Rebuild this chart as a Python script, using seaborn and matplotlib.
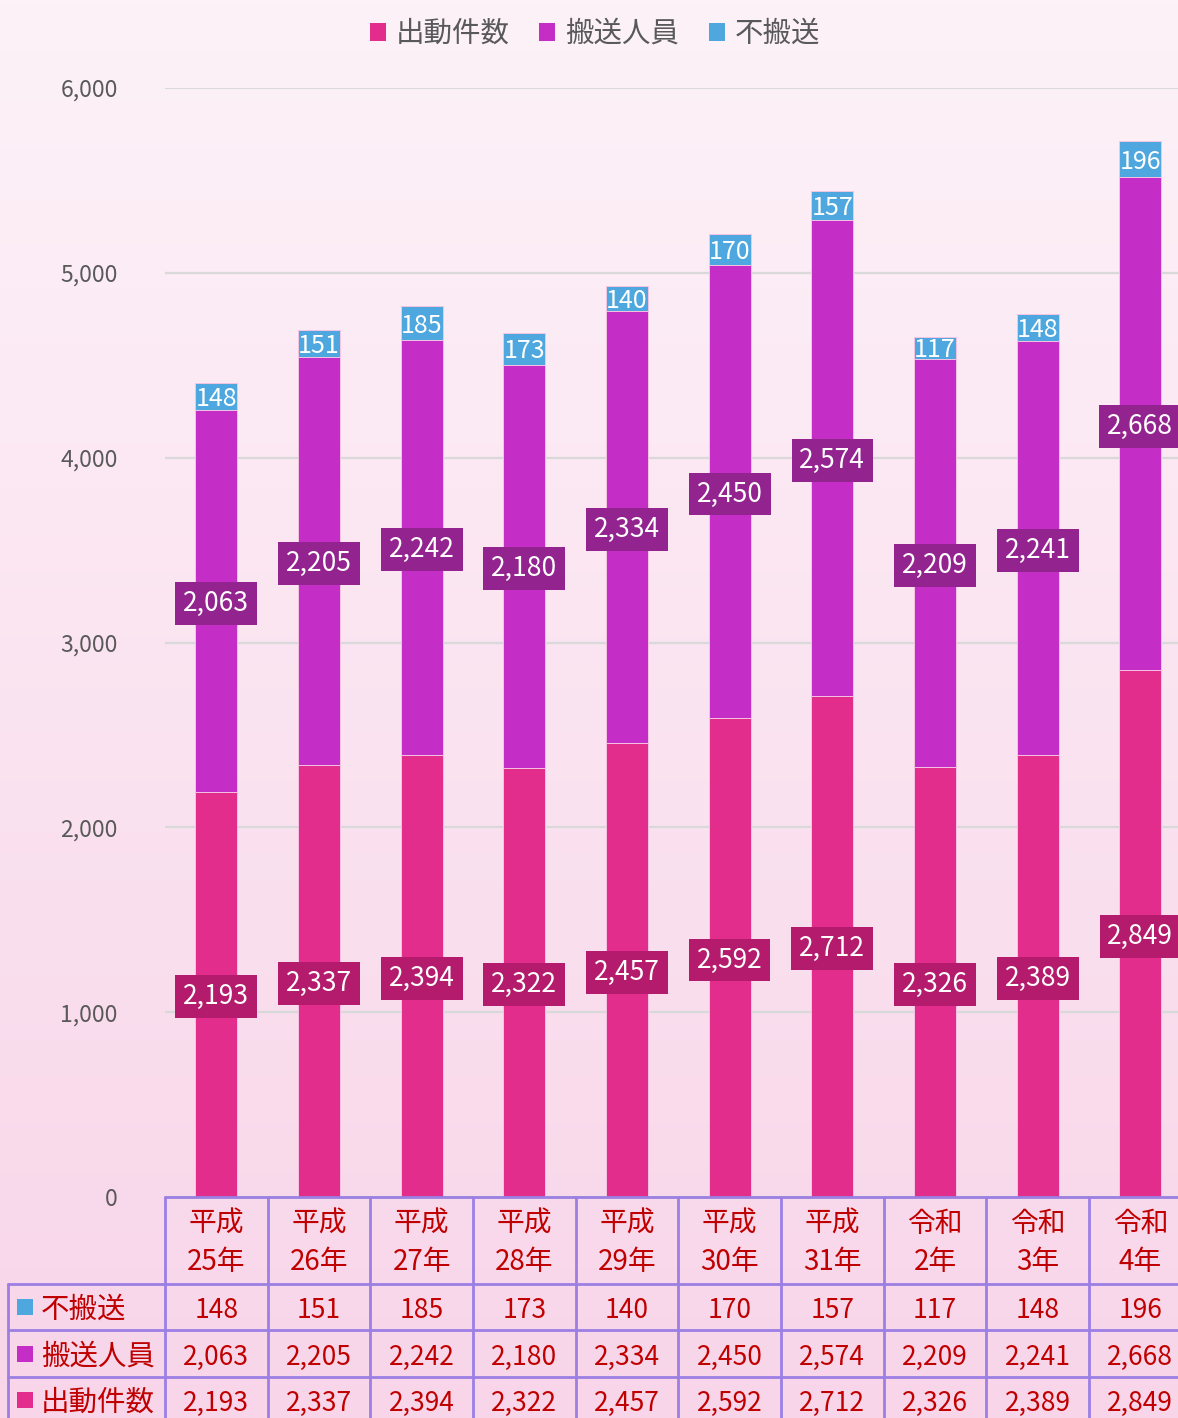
import numpy as np
import pandas as pd
import matplotlib
matplotlib.use("Agg")
import matplotlib.pyplot as plt
import matplotlib.transforms as mtransforms
from matplotlib.patches import Patch, Rectangle
from matplotlib.lines import Line2D
from matplotlib.ticker import FuncFormatter
import seaborn as sns

# ---- data -------------------------------------------------------------
era = ["平成", "平成", "平成", "平成", "平成", "平成", "平成", "令和", "令和", "令和"]
year = ["25年", "26年", "27年", "28年", "29年", "30年", "31年", "2年", "3年", "4年"]
dispatches = [2193, 2337, 2394, 2322, 2457, 2592, 2712, 2326, 2389, 2849]        # 出動件数
transported = [2063, 2205, 2242, 2180, 2334, 2450, 2574, 2209, 2241, 2668]       # 搬送人員
not_transported = [148, 151, 185, 173, 140, 170, 157, 117, 148, 196]            # 不搬送
series_names = ["出動件数", "搬送人員", "不搬送"]
y_ticks = [0, 1000, 2000, 3000, 4000, 5000, 6000]

# ---- styling ----------------------------------------------------------
C_DISPATCH = "#E32D8C"
C_TRANSPORT = "#C42EC6"
C_NOT = "#4EA7DE"
BOX_DISPATCH = "#B41B6C"
BOX_TRANSPORT = "#93238F"
TABLE_LINE = "#9B7FE3"
TABLE_TEXT = "#C00000"
GREY = "#595959"

sns.set_theme(style="white")
plt.rcParams["font.family"] = ["Noto Sans CJK JP", "DejaVu Sans"]

W, H = 1178, 1418
fig = plt.figure(figsize=(W / 100, H / 100), dpi=100)

# soft pink vertical gradient behind everything
bg = fig.add_axes([0, 0, 1, 1], zorder=-10)
top = np.array([253, 242, 248]) / 255
bot = np.array([248, 213, 233]) / 255
t = np.linspace(0, 1, 256)[:, None]
grad = (top[None, :] * (1 - t) + bot[None, :] * t)[:, None, :]
bg.imshow(grad, aspect="auto", extent=[0, 1, 0, 1], origin="upper")
bg.set_axis_off()

labels = [f"{e}\n{y}" for e, y in zip(era, year)]
df = pd.DataFrame({
    "label": labels,
    "出動件数": dispatches,
    "搬送人員": transported,
    "不搬送": not_transported,
})
df["cum_transport"] = df["出動件数"] + df["搬送人員"]
df["cum_total"] = df["cum_transport"] + df["不搬送"]

ncat = len(labels)
col_px = 102.67
ax_left, ax_bottom_px, ax_top_px = 165, 1197, 88
ax = fig.add_axes([ax_left / W, (H - ax_bottom_px) / H,
                   col_px * ncat / W, (ax_bottom_px - ax_top_px) / H])
ax.set_facecolor("none")

bw = 0.41
bar_kw = dict(saturation=1, width=bw, ax=ax, order=labels, errorbar=None,
              edgecolor="#F6C4E2", linewidth=0.7)
sns.barplot(data=df, x="label", y="cum_total", color=C_NOT, **bar_kw)
sns.barplot(data=df, x="label", y="cum_transport", color=C_TRANSPORT, **bar_kw)
sns.barplot(data=df, x="label", y="出動件数", color=C_DISPATCH, **bar_kw)

ax.set_xlim(-0.5, ncat - 0.5)
ax.set_ylim(0, 6000)
ax.set_yticks(y_ticks)
ax.yaxis.set_major_formatter(FuncFormatter(lambda v, p: f"{int(v):,}"))
ax.tick_params(axis="y", length=0, pad=34, labelsize=16.5, labelcolor=GREY)
ax.set_xticks([])
ax.set_xlabel("")
ax.set_ylabel("")
ax.grid(False)
ax.yaxis.grid(True, color="#D9D9D9", lw=1.6)
ax.set_axisbelow(True)
for s in ax.spines.values():
    s.set_visible(False)

# value labels on the stacked segments (nudged a touch down for optical centring)
lab_tr = ax.transData + mtransforms.ScaledTranslation(0, -2.5 / 100, fig.dpi_scale_trans)
for i in range(ncat):
    d, tr, nt = dispatches[i], transported[i], not_transported[i]
    ax.text(i, d / 2, f"{d:,}", ha="center", va="center", color="white",
            fontsize=19, clip_on=False, transform=lab_tr,
            bbox=dict(boxstyle="square,pad=0.3", fc=BOX_DISPATCH, ec="none"))
    ax.text(i, d + tr / 2, f"{tr:,}", ha="center", va="center", color="white",
            fontsize=19, clip_on=False, transform=lab_tr,
            bbox=dict(boxstyle="square,pad=0.3", fc=BOX_TRANSPORT, ec="none"))
    ax.text(i, d + tr + nt / 2, f"{nt:,}", ha="center", va="center",
            color="white", fontsize=18, clip_on=False, transform=lab_tr)

# legend at the top
handles = [Patch(facecolor=c, edgecolor="none") for c in (C_DISPATCH, C_TRANSPORT, C_NOT)]
fig.legend(handles, series_names, loc="center", bbox_to_anchor=(595 / W, 1 - 34 / H),
           ncol=3, frameon=False, fontsize=20.5, labelcolor=GREY,
           handlelength=0.55, handleheight=0.55, handletextpad=0.35,
           columnspacing=1.05)

# ---- data table under the axis ---------------------------------------
tr_x = mtransforms.blended_transform_factory(ax.transData, fig.transFigure)
fy = lambda py: 1 - py / H
row_edges = [1197, 1284, 1330, 1377]
x_right = ncat - 0.5 + 1
lw_tab = 2.0

# horizontal rules
fig.add_artist(Line2D([-0.5, x_right], [fy(row_edges[0])] * 2, transform=tr_x,
                      color=TABLE_LINE, lw=lw_tab, clip_on=False))
for ry in row_edges[1:]:
    fig.add_artist(Line2D([8 / W, 1.0], [fy(ry)] * 2, transform=fig.transFigure,
                          color=TABLE_LINE, lw=lw_tab))
# vertical rules
for k in range(ncat + 1):
    fig.add_artist(Line2D([k - 0.5, k - 0.5], [fy(row_edges[0]), 0], transform=tr_x,
                          color=TABLE_LINE, lw=lw_tab, clip_on=False))
fig.add_artist(Line2D([8 / W, 8 / W], [fy(row_edges[1]), 0], transform=fig.transFigure,
                      color=TABLE_LINE, lw=lw_tab))

# header: era / year
for i in range(ncat):
    fig.text(i, fy(1224), era[i], transform=tr_x, ha="center", va="center",
             color=TABLE_TEXT, fontsize=20)
    fig.text(i, fy(1262), year[i], transform=tr_x, ha="center", va="center",
             color=TABLE_TEXT, fontsize=20)

rows = [("不搬送", C_NOT, not_transported, 1307),
        ("搬送人員", C_TRANSPORT, transported, 1354),
        ("出動件数", C_DISPATCH, dispatches, 1400)]
for name, col, vals, cy in rows:
    fig.add_artist(Rectangle((17 / W, fy(cy + 8)), 16 / W, 16 / H,
                             transform=fig.transFigure, fc=col, ec="none"))
    fig.text(41 / W, fy(cy + 3), name, ha="left", va="center", color=TABLE_TEXT,
             fontsize=20.5)
    for i, v in enumerate(vals):
        fig.text(i, fy(cy + 3), f"{v:,}", transform=tr_x, ha="center", va="center",
                 color=TABLE_TEXT, fontsize=19)

fig.savefig("out.png", dpi=100)
